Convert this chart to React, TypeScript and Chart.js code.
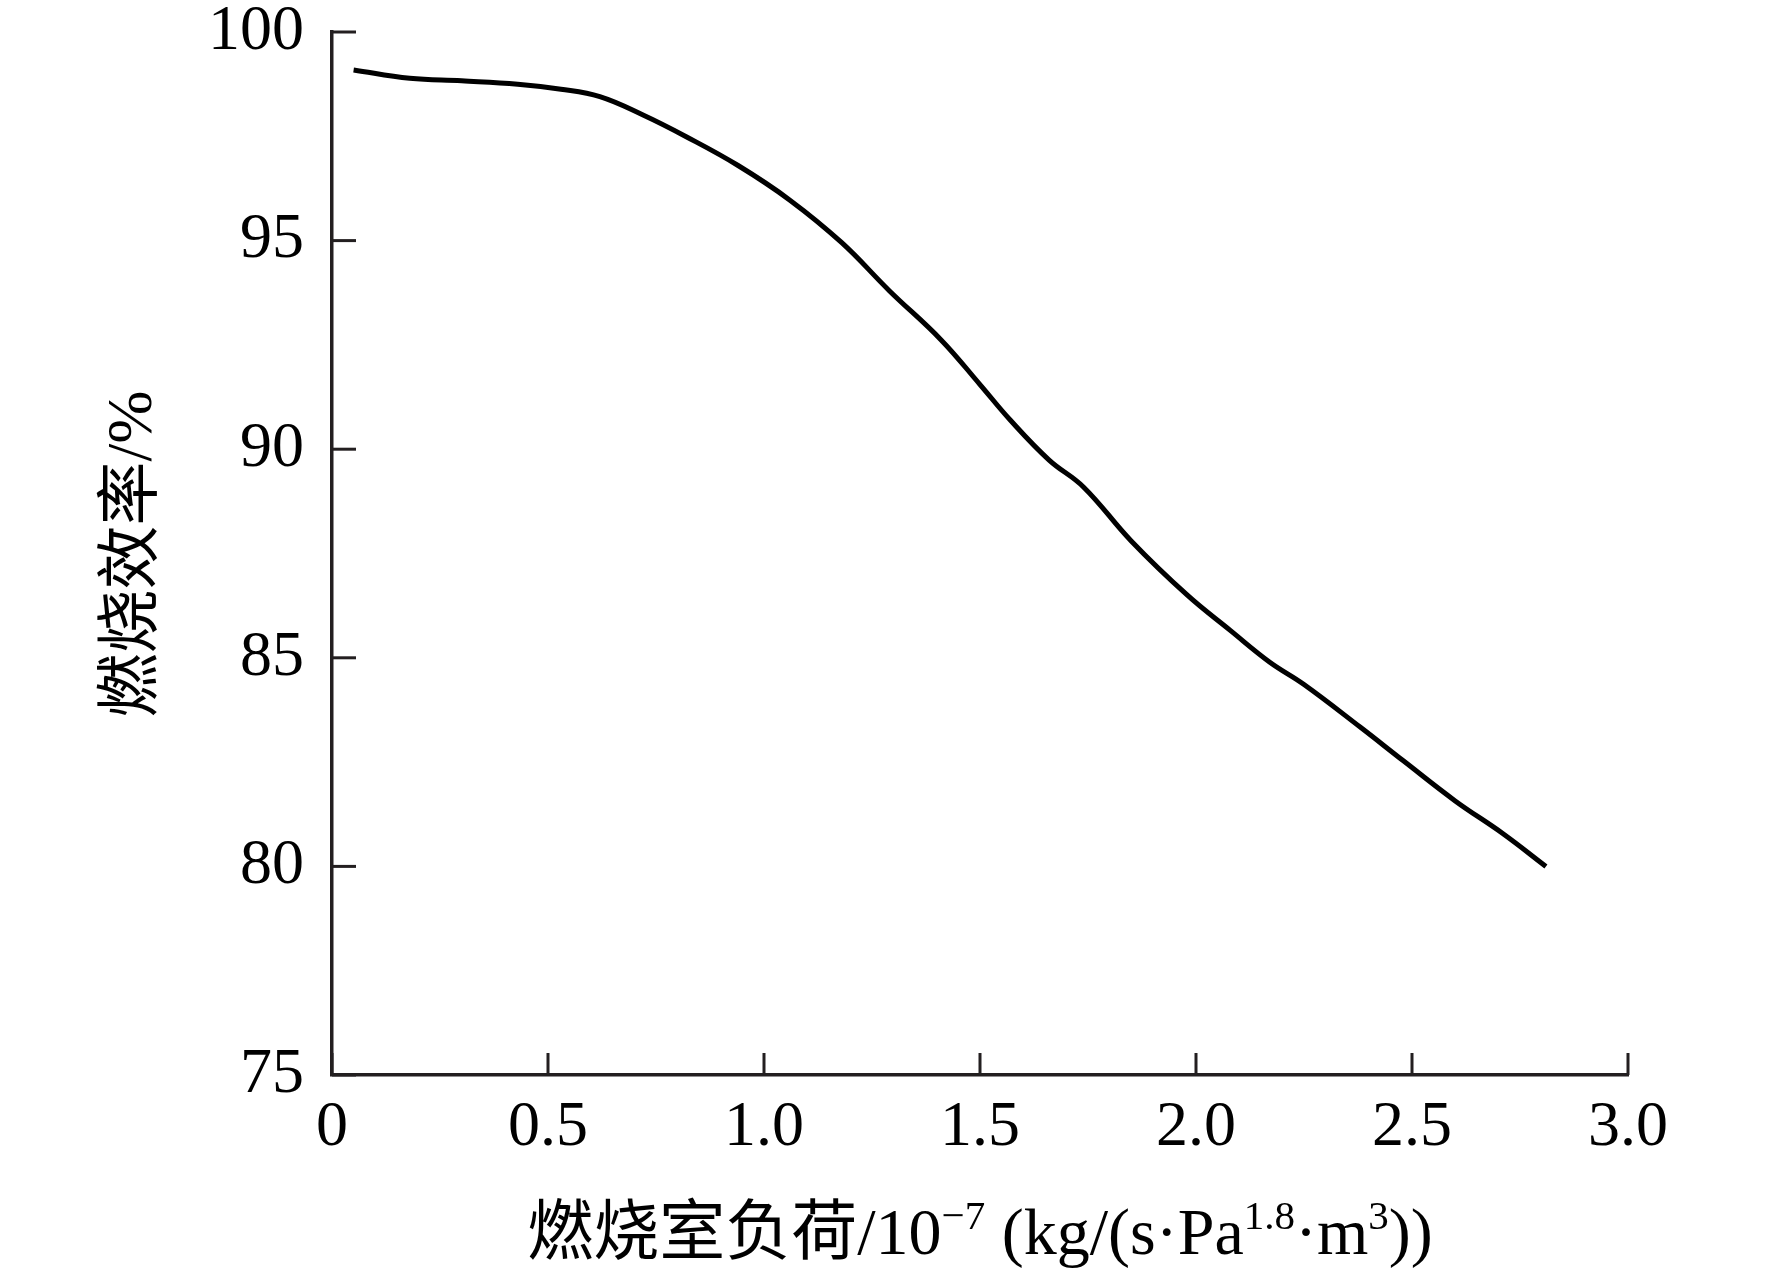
import * as React from 'react';
import { Chart, registerables } from 'chart.js';

Chart.register(...registerables);

// combustion chamber load (x 10^-7) and combustion efficiency (%)
const chamberLoad = [0.05, 0.18, 0.3, 0.43, 0.53, 0.62, 0.72, 0.82, 0.94, 1.06, 1.18, 1.29, 1.41,
    1.5, 1.57, 1.66, 1.74, 1.85, 1.98, 2.08, 2.17, 2.25, 2.38, 2.48, 2.6, 2.71, 2.81];
const efficiency = [99.09, 98.89, 98.83, 98.75, 98.63, 98.45, 98.01, 97.49, 96.8, 95.97, 94.95, 93.8, 92.62,
    91.55, 90.7, 89.74, 89.09, 87.8, 86.5, 85.65, 84.9, 84.36, 83.34, 82.53, 81.57, 80.79, 80.0];

const xTickValues = [0, 0.5, 1.0, 1.5, 2.0, 2.5, 3.0];
const yTickValues = [75, 80, 85, 90, 95, 100];

const yTitle = '燃烧效率/%';
// x title pieces: [text, superscript?]
const xTitleParts: [string, boolean][] = [
    ['燃烧室负荷/10', false],
    ['−7', true],
    [' (kg/(s·Pa', false],
    ['1.8', true],
    ['·m', false],
    ['3', true],
    ['))', false],
];

const W = 1772;
const H = 1272;
const AXIS_COLOR = '#231f20';
const FONT = '"Liberation Serif", "Noto Sans CJK SC", serif';

const axisDecor = {
    id: 'axisDecor',
    afterDraw(chart: any) {
        const ctx = chart.ctx as CanvasRenderingContext2D;
        const xs = chart.scales.x;
        const ys = chart.scales.y;
        const area = chart.chartArea;
        ctx.save();
        ctx.strokeStyle = AXIS_COLOR;
        ctx.lineWidth = 3;
        // inward tick marks
        xs.ticks.forEach((t: any) => {
            const px = xs.getPixelForValue(t.value);
            ctx.beginPath();
            ctx.moveTo(px, area.bottom);
            ctx.lineTo(px, area.bottom - 22);
            ctx.stroke();
        });
        ys.ticks.forEach((t: any) => {
            const py = ys.getPixelForValue(t.value);
            ctx.beginPath();
            ctx.moveTo(area.left, py);
            ctx.lineTo(area.left + 24, py);
            ctx.stroke();
        });

        ctx.fillStyle = '#000';
        // y title, rotated
        ctx.save();
        ctx.translate(134, 554);
        ctx.rotate(-Math.PI / 2);
        ctx.font = `64px ${FONT}`;
        ctx.textAlign = 'center';
        ctx.textBaseline = 'middle';
        ctx.fillText(yTitle, 0, 0);
        ctx.restore();

        // x title with superscripts
        const mainFont = `66px ${FONT}`;
        const supFont = `41px ${FONT}`;
        let total = 0;
        const widths = xTitleParts.map(([s, sup]) => {
            ctx.font = sup ? supFont : mainFont;
            const w = ctx.measureText(s).width;
            total += w;
            return w;
        });
        let cx = (area.left + area.right) / 2 - total / 2;
        const baseY = 1254;
        ctx.textAlign = 'left';
        ctx.textBaseline = 'alphabetic';
        xTitleParts.forEach(([s, sup], i) => {
            ctx.font = sup ? supFont : mainFont;
            ctx.fillText(s, cx, sup ? baseY - 25 : baseY);
            cx += widths[i];
        });
        ctx.restore();
    },
};

export default function App() {
    const canvasRef = React.useRef<HTMLCanvasElement>(null);

    React.useEffect(() => {
        if (!canvasRef.current) return;
        const chart = new Chart(canvasRef.current, {
            type: 'line',
            data: {
                datasets: [{
                    data: chamberLoad.map((x, i) => ({ x, y: efficiency[i] })),
                    borderColor: '#000',
                    borderWidth: 5,
                    pointRadius: 0,
                    tension: 0.4,
                    fill: false,
                }],
            },
            options: {
                animation: false,
                responsive: false,
                devicePixelRatio: 1,
                layout: { padding: { left: 0, top: 32, right: W - 1628, bottom: 0 } },
                plugins: { legend: { display: false }, tooltip: { enabled: false } },
                scales: {
                    x: {
                        type: 'linear',
                        min: 0,
                        max: 3,
                        afterBuildTicks: (scale: any) => {
                            scale.ticks = xTickValues.map((value) => ({ value }));
                        },
                        afterFit: (scale: any) => { scale.height = H - 1075; },
                        grid: { display: false, drawTicks: false },
                        border: { display: true, color: AXIS_COLOR, width: 3.5 },
                        ticks: {
                            color: '#000',
                            padding: 15,
                            maxRotation: 0,
                            font: { family: FONT, size: 64, lineHeight: 1.2 },
                            callback: (v: any) => (Number(v) === 0 ? '0' : Number(v).toFixed(1)),
                        },
                    },
                    y: {
                        min: 75,
                        max: 100,
                        afterBuildTicks: (scale: any) => {
                            scale.ticks = yTickValues.map((value) => ({ value }));
                        },
                        afterFit: (scale: any) => {
                            scale.width = 332;
                            scale.paddingTop = 0;
                            scale.paddingBottom = 0;
                        },
                        grid: { display: false, drawTicks: false },
                        border: { display: true, color: AXIS_COLOR, width: 3.5 },
                        ticks: {
                            color: '#000',
                            padding: 28,
                            font: { family: FONT, size: 64, lineHeight: 0.3 },
                        },
                    },
                },
            },
            plugins: [axisDecor],
        });
        return () => {
            chart.destroy();
        };
    }, []);

    return (
        <div style={{ position: 'absolute', left: 0, top: 0, width: W, height: H, background: '#fff' }}>
            <canvas ref={canvasRef} width={W} height={H} style={{ width: W, height: H }}></canvas>
        </div>
    );
}
